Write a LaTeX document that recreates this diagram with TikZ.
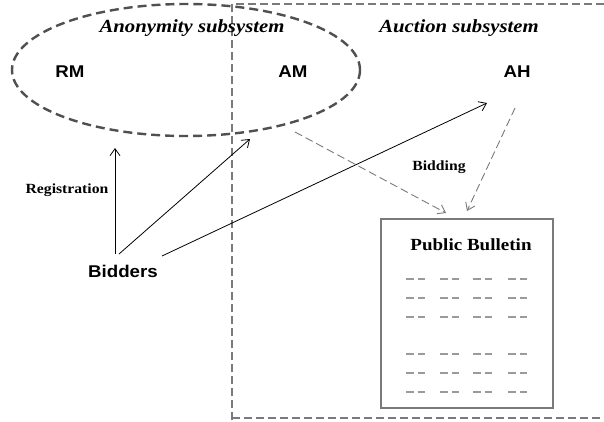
\documentclass[tikz,border=0pt]{standalone}
\usepackage{fontspec}
\usetikzlibrary{arrows.meta}
\newfontfamily\serifx[FakeStretch=1.12]{Liberation Serif}
\newfontfamily\sansx[FakeStretch=1.1]{Liberation Sans}
\definecolor{dgray}{HTML}{505050}
\definecolor{mgray}{HTML}{7A7A7A}
\definecolor{lgray}{HTML}{9A9A9A}
\begin{document}
\begin{tikzpicture}[x=1pt,y=-1pt,
  lbl/.style={inner sep=0pt,font=\sansx\bfseries\fontsize{17}{20}\selectfont},
  ttl/.style={inner sep=0pt,font=\serifx\bfseries\itshape\fontsize{18.5}{22}\selectfont},
  tlbl/.style={inner sep=0pt,font=\serifx\bfseries\fontsize{14}{17}\selectfont},
  arr/.style={-{Straight Barb[length=7pt,width=10pt]},line width=0.8pt,black},
  darr/.style={-{Straight Barb[length=7pt,width=10pt]},line width=0.9pt,mgray,dash pattern=on 8pt off 4pt},
  pbdash/.style={lgray,line width=1.3pt,dash pattern=on 7.5pt off 4pt}
]
\useasboundingbox (0,0) rectangle (604,421);
\fill[white] (0,0) rectangle (604,421);
% auction subsystem frame
\draw[mgray,line width=2pt,dash pattern=on 8pt off 4pt] (232,420) -- (232,4) -- (620,4);
\draw[mgray,line width=2pt,dash pattern=on 8pt off 4pt] (232,418) -- (620,418);
% anonymity ellipse
\draw[dgray,line width=2.4pt,dash pattern=on 9pt off 5pt] (186,70) ellipse [x radius=174, y radius=66];
% titles
\node[ttl] (anon) at (192,28) {Anonymity subsystem};
\node[ttl] (auct) at (459,28) {Auction subsystem};
% entities
\node[lbl] (RM) at (70,72) {RM};
\node[lbl] (AM) at (293,72) {AM};
\node[lbl] (AH) at (517,72) {AH};
\node[lbl] (Bidders) at (123,271) {Bidders};
% public bulletin
\node[draw=mgray,line width=1.5pt,minimum width=172pt,minimum height=189pt,inner sep=0pt] (PB) at (467,313.5) {};
\node[inner sep=0pt,font=\serifx\bfseries\fontsize{17}{20}\selectfont] (PBt) at (471,245) {Public Bulletin};
\foreach \yy in {279,298,317,354,373,392}{
  \foreach \xx in {406,440,473,508}{
    \draw[pbdash] (\xx,\yy) -- ++(19.5,0);
  }
}
% arrow end points
\coordinate (regS) at (115,254);
\coordinate (regE) at (115,148);
\coordinate (bamS) at (119,254);
\coordinate (bamE) at (250,139);
\coordinate (bahS) at (162,256);
\coordinate (bahE) at (487,103);
\coordinate (ampS) at (295,132);
\coordinate (ampE) at (446,213);
\coordinate (ahpS) at (515,108);
\coordinate (ahpE) at (467,211);
\draw[arr] (regS) -- (regE);
\draw[arr] (bamS) -- (bamE);
\draw[arr] (bahS) -- (bahE);
\draw[darr] (ampS) -- (ampE);
\draw[darr] (ahpS) -- (ahpE);
\node[tlbl] (reg) at (67,190) {Registration};
\node[tlbl] (bid) at (439,167) {Bidding};
\end{tikzpicture}
\end{document}
